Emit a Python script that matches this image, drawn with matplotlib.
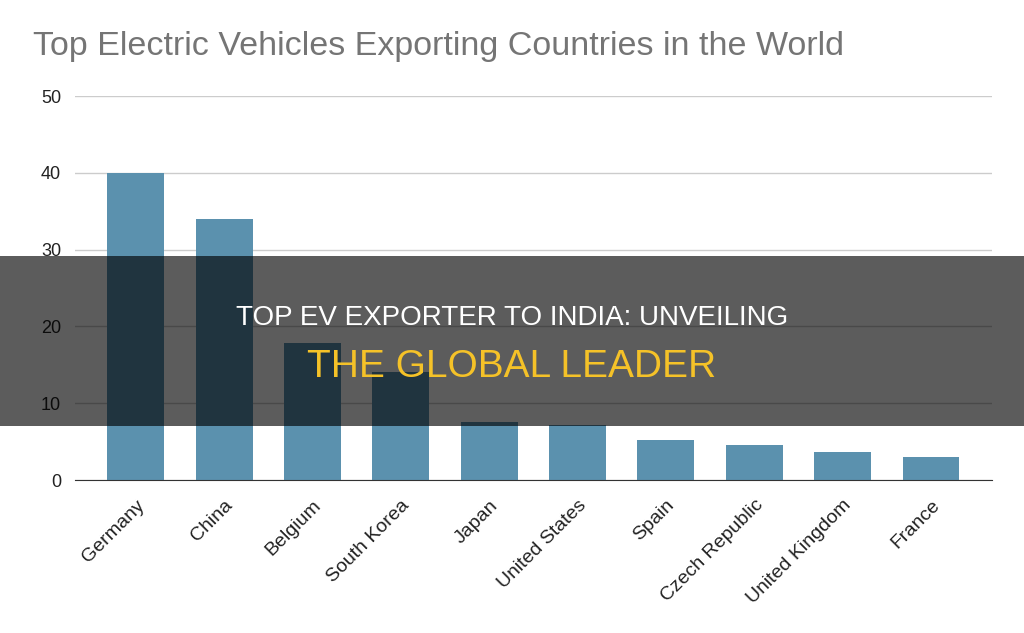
import matplotlib
matplotlib.use('Agg')
import matplotlib.pyplot as plt
from matplotlib.patches import Rectangle

countries = ["Germany", "China", "Belgium", "South Korea", "Japan", "United States",
             "Spain", "Czech Republic", "United Kingdom", "France"]
exports = [40.0, 34.0, 17.8, 14.1, 7.6, 7.2, 5.2, 4.6, 3.6, 3.0]
y_ticks = [0, 10, 20, 30, 40, 50]

title = "Top Electric Vehicles Exporting Countries in the World"
banner_line1 = "TOP EV EXPORTER TO INDIA: UNVEILING"
banner_line2 = "THE GLOBAL LEADER"

plt.rcParams['font.family'] = ['Liberation Sans', 'DejaVu Sans']

fig = plt.figure(figsize=(10.24, 6.33), dpi=100)
ax = fig.add_axes([0.0732, 0.2417, 0.8955, 0.6066])

ax.bar(range(len(countries)), exports, width=0.645, color='#5b91ae', zorder=2)
ax.set_xlim(-0.69, len(countries) - 1 + 0.69)
ax.set_ylim(0, 50)
ax.set_yticks(y_ticks)
ax.set_yticklabels([str(v) for v in y_ticks], fontsize=13, color='#222222')
ax.set_xticks(range(len(countries)))
ax.set_xticklabels(countries, rotation=45, ha='right', rotation_mode='anchor',
                   fontsize=14, color='#222222')
ax.tick_params(length=0)
ax.tick_params(axis='y', pad=10)
ax.tick_params(axis='x', pad=12)
ax.grid(axis='y', color='#cccccc', linewidth=1, zorder=0)
for s in ['top', 'right', 'left']:
    ax.spines[s].set_visible(False)
ax.spines['bottom'].set_color('#333333')
ax.spines['bottom'].set_zorder(3)

fig.text(0.032, 0.926, title, fontsize=24.5, color='#757575', va='center', ha='left')

# dark banner across the middle
fig.patches.append(Rectangle((0, 0.327), 1, 0.2686, transform=fig.transFigure,
                             facecolor='black', alpha=0.64, zorder=5))
fig.text(0.5, 0.4976, banner_line1, fontsize=20, color='white', ha='center', va='center', zorder=6)
fig.text(0.5, 0.42, banner_line2, fontsize=28, color='#f5c228', ha='center', va='center', zorder=6)

fig.savefig('out.png', dpi=100)
